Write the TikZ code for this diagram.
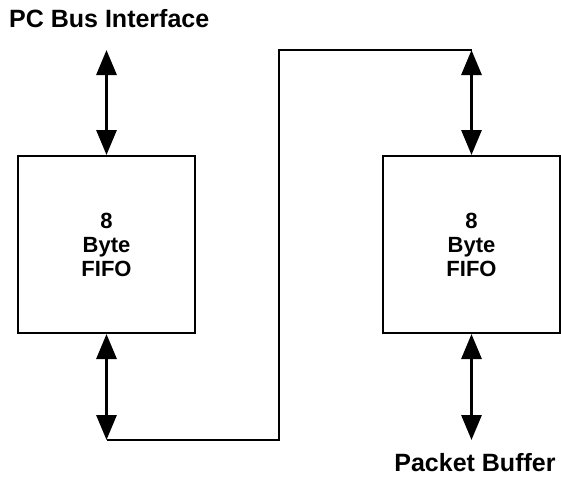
\documentclass[tikz,border=0pt]{standalone}
\usepackage{fontspec}
\setmainfont{Liberation Sans}
\usetikzlibrary{arrows.meta}
\begin{document}
\begin{tikzpicture}[x=1pt,y=-1pt,
    fifo/.style={draw,line width=2pt,minimum width=177pt,minimum height=177pt,
      align=center,font=\bfseries\fontsize{22}{24}\selectfont},
    bus/.style={line width=3pt,
      {Triangle[length=25pt,width=20pt]}-{Triangle[length=25pt,width=20pt]}},
    lbl/.style={font=\bfseries\fontsize{25}{28}\selectfont,inner sep=0pt}]
        \useasboundingbox (0,0) rectangle (561,479);
        \node[fifo] (left) at (106.5,244.5) {8\\Byte\\FIFO};
        \node[fifo] (right) at (471.5,244.5) {8\\Byte\\FIFO};
        \node[lbl,anchor=west] (pc) at (9,19) {PC Bus Interface};
        \node[lbl] (pkt) at (475,463) {Packet Buffer};
        \coordinate (pctop) at (106.5,50);
        \coordinate (loopa) at (106.5,440);
        \coordinate (loopb) at (471.5,50);
        \coordinate (pktbot) at (471.5,440);
        \draw[bus] (pctop) -- (left.north);
        \draw[bus] (left.south) -- (loopa);
        \draw[line width=2.5pt] (loopa) -- (279,440) -- (279,50) -- (loopb);
        \draw[bus] (loopb) -- (right.north);
        \draw[bus] (right.south) -- (pktbot);
      \end{tikzpicture}
\end{document}
